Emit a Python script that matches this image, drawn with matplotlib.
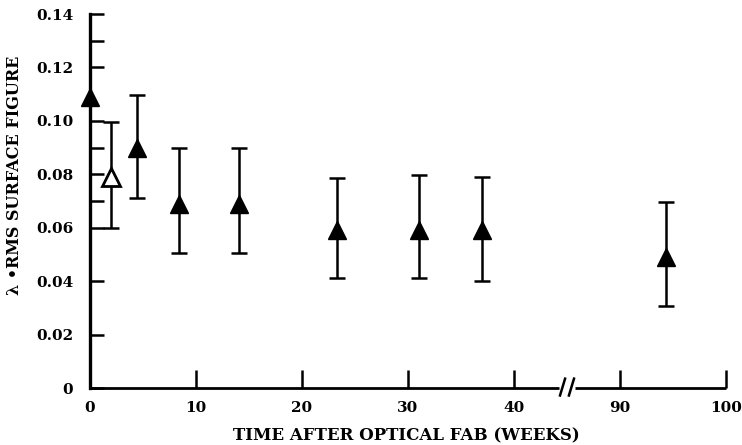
import numpy as np
import matplotlib
matplotlib.use("Agg")
import matplotlib.pyplot as plt
from matplotlib.lines import Line2D

# ---- data ----
weeks = [0, 2, 4.4, 8.4, 14.1, 23.3, 31.0, 37.0, 94.3]
rms = [0.109, 0.079, 0.090, 0.069, 0.069, 0.059, 0.059, 0.059, 0.049]
err_low = [0.109, 0.060, 0.071, 0.0505, 0.0505, 0.041, 0.041, 0.040, 0.0307]
err_high = [0.109, 0.0996, 0.1097, 0.090, 0.090, 0.0787, 0.0797, 0.079, 0.0697]
hollow = [False, True, False, False, False, False, False, False, False]
x_ticks = [0, 10, 20, 30, 40, 90, 100]
x_tick_labels = ["0", "10", "20", "30", "40", "90", "100"]
y_ticks = [0, 0.02, 0.04, 0.06, 0.08, 0.10, 0.12, 0.14]
y_tick_labels = ["0", "0.02", "0.04", "0.06", "0.08", "0.10", "0.12", "0.14"]
y_minor = [0.07, 0.09, 0.13]
xlabel = "TIME AFTER OPTICAL FAB (WEEKS)"
ylabel = "λ •RMS SURFACE FIGURE"

FONT = "DejaVu Serif"

# broken x axis: 45..85 collapsed
def fwd(x):
    x = np.asarray(x, dtype=float)
    return np.where(x <= 45, x, np.where(x >= 85, x - 40, 45.0))

def inv(x):
    x = np.asarray(x, dtype=float)
    return np.where(x <= 45, x, x + 40)

fig = plt.figure(figsize=(7.42, 4.45), dpi=100)
ax = fig.add_axes([90/742, 57/445, (726-90)/742, (388-14)/445])
ax.set_xscale("function", functions=(fwd, inv))
ax.set_xlim(0, 100)
ax.set_ylim(0, 0.14)

rms_a = np.array(rms)
lo = rms_a - np.array(err_low)
hi = np.array(err_high) - rms_a
for i in range(len(weeks)):
    if lo[i] > 0 or hi[i] > 0:
        ax.errorbar([weeks[i]], [rms[i]], yerr=[[lo[i]], [hi[i]]], fmt="none",
                    ecolor="black", elinewidth=1.8, capsize=6, capthick=1.8,
                    clip_on=False, zorder=3)
    ax.plot([weeks[i]], [rms[i]], marker="^", markersize=13,
            markerfacecolor="white" if hollow[i] else "black",
            markeredgecolor="black", markeredgewidth=2 if hollow[i] else 1,
            linestyle="none", clip_on=False, zorder=4)

# spines
for s in ["top", "right", "bottom"]:
    ax.spines[s].set_visible(False)
ax.spines["left"].set_linewidth(2.4)

# bottom axis drawn in two parts with a break
brk = 45 / 60
ax.add_line(Line2D([0, brk - 0.012], [0, 0], transform=ax.transAxes, color="black",
                   lw=2, clip_on=False, solid_capstyle="butt"))
ax.add_line(Line2D([brk + 0.012, 1], [0, 0], transform=ax.transAxes, color="black",
                   lw=2, clip_on=False, solid_capstyle="butt"))
for dx in (-0.007, 0.007):
    ax.add_line(Line2D([brk + dx - 0.004, brk + dx + 0.004], [-0.02, 0.025],
                       transform=ax.transAxes, color="black", lw=1.8, clip_on=False))

ax.set_xticks(x_ticks)
ax.set_xticklabels(x_tick_labels)
ax.set_xticks([], minor=True)
ax.set_yticks(y_ticks)
ax.set_yticklabels(y_tick_labels)
ax.set_yticks(y_minor, minor=True)

ax.tick_params(axis="x", which="major", direction="in", length=13, width=1.8, pad=9)
ax.tick_params(axis="y", which="major", direction="in", length=10, width=1.8, pad=12)
ax.tick_params(axis="y", which="minor", direction="in", length=10, width=1.8)

for lab in ax.get_xticklabels() + ax.get_yticklabels():
    lab.set_fontfamily(FONT)
    lab.set_fontweight("bold")
    lab.set_fontsize(11)

ax.set_xlabel(xlabel, fontfamily=FONT, fontweight="bold", fontsize=12)
ax.xaxis.set_label_coords(0.497, -0.104)
ax.set_ylabel(ylabel, fontfamily=FONT, fontweight="bold", fontsize=11.5)
ax.yaxis.set_label_coords(-0.105, 0.57)

fig.savefig("out.png", dpi=100)
